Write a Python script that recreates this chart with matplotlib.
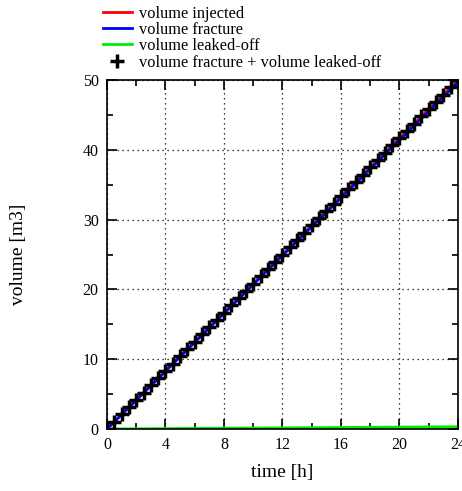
import matplotlib
matplotlib.use("Agg")
import matplotlib.pyplot as plt
from matplotlib.ticker import MultipleLocator

plt.rcParams["font.family"] = ["Liberation Serif", "DejaVu Serif"]

# time [h]
time_h = [0.0, 0.5, 1.0, 1.5, 2.0, 2.5, 3.0, 3.5, 4.0, 4.5, 5.0, 5.5, 6.0, 6.5,
          7.0, 7.5, 8.0, 8.5, 9.0, 9.5, 10.0, 10.5, 11.0, 11.5, 12.0, 12.5,
          13.0, 13.5, 14.0, 14.5, 15.0, 15.5, 16.0, 16.5, 17.0, 17.5, 18.0,
          18.5, 19.0, 19.5, 20.0, 20.5, 21.0, 21.5, 22.0, 22.5, 23.0, 23.5, 24.0]

# volume injected [m3]
vol_injected = [0.00, 1.04, 2.08, 3.13, 4.17, 5.21, 6.25, 7.29, 8.33, 9.38,
                10.42, 11.46, 12.50, 13.54, 14.58, 15.63, 16.67, 17.71, 18.75,
                19.79, 20.83, 21.88, 22.92, 23.96, 25.00, 26.04, 27.08, 28.13,
                29.17, 30.21, 31.25, 32.29, 33.33, 34.38, 35.42, 36.46, 37.50,
                38.54, 39.58, 40.63, 41.67, 42.71, 43.75, 44.79, 45.83, 46.88,
                47.92, 48.96, 50.00]

# volume leaked-off [m3]
vol_leaked = [0.00, 0.01, 0.02, 0.02, 0.03, 0.04, 0.04, 0.05, 0.06, 0.06,
              0.07, 0.08, 0.08, 0.09, 0.10, 0.10, 0.11, 0.12, 0.12, 0.13,
              0.14, 0.14, 0.15, 0.16, 0.16, 0.17, 0.18, 0.18, 0.19, 0.20,
              0.20, 0.21, 0.22, 0.22, 0.23, 0.24, 0.24, 0.25, 0.26, 0.26,
              0.27, 0.28, 0.28, 0.29, 0.30, 0.30, 0.31, 0.32, 0.32]

# volume fracture [m3]
vol_fracture = [0.00, 1.03, 2.06, 3.11, 4.14, 5.17, 6.21, 7.24, 8.27, 9.32,
                10.35, 11.38, 12.42, 13.45, 14.48, 15.53, 16.56, 17.59, 18.63,
                19.66, 20.69, 21.74, 22.77, 23.80, 24.84, 25.87, 26.90, 27.95,
                28.98, 30.01, 31.05, 32.08, 33.11, 34.16, 35.19, 36.22, 37.26,
                38.29, 39.32, 40.37, 41.40, 42.43, 43.47, 44.50, 45.53, 46.58,
                47.61, 48.64, 49.68]

vol_sum = [f + l for f, l in zip(vol_fracture, vol_leaked)]

fig = plt.figure(figsize=(4.62, 4.91), dpi=100)
ax = fig.add_axes([0.2316, 0.1263, 0.7597, 0.7107])

ax.plot(time_h, vol_injected, color="red", lw=2, label="volume injected")
ax.plot(time_h, vol_fracture, color="blue", lw=2, label="volume fracture")
ax.plot(time_h, vol_leaked, color="#00ee00", lw=2, label="volume leaked-off")
ax.plot(time_h, vol_sum, linestyle="none", marker="+", color="black",
        markersize=10, markeredgewidth=2.5,
        label="volume fracture + volume leaked-off")

ax.set_xlim(0, 24)
ax.set_ylim(0, 50)
ax.xaxis.set_major_locator(MultipleLocator(4))
ax.xaxis.set_minor_locator(MultipleLocator(2))
ax.yaxis.set_major_locator(MultipleLocator(10))
ax.yaxis.set_minor_locator(MultipleLocator(5))
ax.tick_params(which="both", direction="in", top=True, right=True,
               labelsize=11.5, width=1.2)
ax.tick_params(which="major", length=7, pad=6)
ax.tick_params(which="minor", length=4)
ax.grid(True, which="major", color="black", linestyle=(0, (1, 3)), lw=0.9)
for s in ax.spines.values():
    s.set_linewidth(1.2)

ax.set_xlabel("time [h]", fontsize=14, labelpad=8)
ax.set_ylabel("volume [m3]", fontsize=14, labelpad=40)

fig.legend(loc="upper left", bbox_to_anchor=(0.198, 1.012), frameon=False,
           fontsize=11.8, handlelength=1.75, handletextpad=0.45,
           labelspacing=0.02, borderpad=0.2)

fig.savefig("out.png", dpi=100)
